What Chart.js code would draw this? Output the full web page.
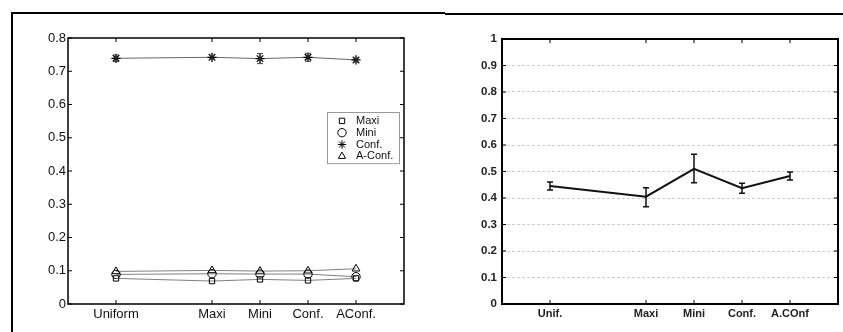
<!DOCTYPE html>
<html>
<head>
<meta charset="utf-8">
<script src="https://cdn.jsdelivr.net/npm/chart.js@4/dist/chart.umd.min.js"></script>
<style>
  html, body { margin: 0; padding: 0; background: #fff; }
  body { width: 843px; height: 332px; position: relative; overflow: hidden; font-family: "Liberation Sans", Arial, sans-serif; }
  canvas { position: absolute; }
  #c1 { left: 20px; top: 20px; }
  #c2 { left: 440px; top: 20px; }
  .rule { position: absolute; background: #000; }
</style>
</head>
<body>
<div class="rule" style="left:11px; top:12px; width:2px; height:320px;"></div>
<div class="rule" style="left:11px; top:12px; width:434px; height:2px;"></div>
<div class="rule" style="left:445px; top:13px; width:398px; height:2px;"></div>
<canvas id="c1" width="400" height="312"></canvas>
<canvas id="c2" width="403" height="312"></canvas>
<script>
// ---- left panel: four placement strategies, scores per scenario ----
const leftCategories = ['Uniform', 'Maxi', 'Mini', 'Conf.', 'AConf.'];
const leftSlots = [1, 3, 4, 5, 6];
const seriesNames = ['Maxi', 'Mini', 'Conf.', 'A-Conf.'];
const maxiValues  = [0.077, 0.069, 0.074, 0.071, 0.077];
const miniValues  = [0.089, 0.091, 0.090, 0.090, 0.082];
const confValues  = [0.739, 0.742, 0.738, 0.742, 0.734];
const confErrors  = [0.010, 0.006, 0.015, 0.012, 0.006];
const aconfValues = [0.098, 0.101, 0.099, 0.100, 0.106];
const leftYTicks  = [0, 0.1, 0.2, 0.3, 0.4, 0.5, 0.6, 0.7, 0.8];

// ---- right panel: single measure with spread ----
const rightCategories = ['Unif.', 'Maxi', 'Mini', 'Conf.', 'A.COnf'];
const rightSlots = [1, 3, 4, 5, 6];
const rightValues = [0.445, 0.405, 0.510, 0.437, 0.483];
const rightLow    = [0.430, 0.367, 0.458, 0.418, 0.468];
const rightHigh   = [0.460, 0.439, 0.565, 0.456, 0.498];
const rightYTicks = [0, 0.1, 0.2, 0.3, 0.4, 0.5, 0.6, 0.7, 0.8, 0.9, 1];

Chart.defaults.font.family = '"Liberation Sans", Arial, sans-serif';
Chart.defaults.color = '#111';
Chart.defaults.animation = false;

const fmt = v => (v === 0 ? '0' : String(Math.round(v * 10) / 10));

function pts(slots, vals) {
  return slots.map((x, i) => ({ x: x, y: vals[i] }));
}

// Frame around the plot area with inward tick marks on every side
const boxFrame = {
  id: 'boxFrame',
  afterDraw(chart, args, opts) {
    const { ctx, chartArea: a, scales } = chart;
    const len = opts.tick || 4;
    ctx.save();
    ctx.strokeStyle = '#000';
    ctx.lineWidth = opts.width || 1.5;
    ctx.strokeRect(a.left, a.top, a.right - a.left, a.bottom - a.top);
    ctx.lineWidth = 1;
    ctx.beginPath();
    scales.x.ticks.forEach(t => {
      const px = scales.x.getPixelForValue(t.value);
      ctx.moveTo(px, a.bottom); ctx.lineTo(px, a.bottom - len);
      ctx.moveTo(px, a.top); ctx.lineTo(px, a.top + len);
    });
    scales.y.ticks.forEach(t => {
      const py = scales.y.getPixelForValue(t.value);
      ctx.moveTo(a.left, py); ctx.lineTo(a.left + len, py);
      ctx.moveTo(a.right, py); ctx.lineTo(a.right - len, py);
    });
    ctx.stroke();
    ctx.restore();
  }
};

// Vertical error bars with caps, read from dataset.errLow / dataset.errHigh
const errorBars = {
  id: 'errorBars',
  afterDatasetsDraw(chart) {
    const { ctx, scales } = chart;
    ctx.save();
    chart.data.datasets.forEach(ds => {
      if (!ds.errLow) return;
      ctx.strokeStyle = ds.errColor || '#000';
      ctx.lineWidth = ds.errWidth || 1;
      const cap = ds.errCap || 3;
      ds.data.forEach((p, i) => {
        const x = scales.x.getPixelForValue(p.x);
        const y1 = scales.y.getPixelForValue(ds.errLow[i]);
        const y2 = scales.y.getPixelForValue(ds.errHigh[i]);
        ctx.beginPath();
        ctx.moveTo(x, y1); ctx.lineTo(x, y2);
        ctx.moveTo(x - cap, y1); ctx.lineTo(x + cap, y1);
        ctx.moveTo(x - cap, y2); ctx.lineTo(x + cap, y2);
        ctx.stroke();
      });
    });
    ctx.restore();
  }
};

// Boxed legend drawn inside the plot area
const innerLegend = {
  id: 'innerLegend',
  afterDraw(chart, args, opts) {
    if (!opts.show) return;
    const { ctx, chartArea: a } = chart;
    const items = chart.data.datasets.filter(d => d.label);
    const w = opts.boxWidth, rowH = opts.rowHeight;
    const h = items.length * rowH + 4;
    const left = a.right - opts.right - w;
    const top = a.top + opts.top;
    ctx.save();
    ctx.fillStyle = '#fff';
    ctx.fillRect(left, top, w, h);
    ctx.strokeStyle = '#999';
    ctx.lineWidth = 1;
    ctx.strokeRect(left + 0.5, top + 0.5, w, h);
    ctx.font = '11px "Liberation Sans", Arial, sans-serif';
    ctx.textBaseline = 'middle';
    items.forEach((d, i) => {
      const cy = top + 3 + rowH * (i + 0.5);
      ctx.fillStyle = 'rgba(255,255,255,0)';
      ctx.strokeStyle = '#000';
      ctx.lineWidth = 1;
      Chart.helpers.drawPoint(ctx, {
        pointStyle: d.pointStyle, radius: Math.min(d.pointRadius, 4.2), borderWidth: 1
      }, left + 15, cy);
      ctx.fillStyle = '#111';
      ctx.fillText(d.label, left + 29, cy);
    });
    ctx.restore();
  }
};

function markerSeries(label, vals, style, extra) {
  return Object.assign({
    label: label,
    data: pts(leftSlots, vals),
    pointStyle: style,
    pointRadius: 4.2,
    pointBorderWidth: 1,
    pointBorderColor: '#000',
    pointBackgroundColor: 'rgba(255,255,255,0)',
    borderColor: '#808080',
    borderWidth: 1,
    fill: false,
    tension: 0
  }, extra || {});
}

new Chart(document.getElementById('c1'), {
  type: 'line',
  data: {
    datasets: [
      markerSeries(seriesNames[0], maxiValues, 'rect', { pointRadius: 3.8 }),
      markerSeries(seriesNames[1], miniValues, 'circle'),
      markerSeries(seriesNames[2], confValues, 'star', {
        borderColor: '#666',
        pointRadius: 4.6,
        pointBorderWidth: 1.3,
        errLow: confValues.map((v, i) => v - confErrors[i]),
        errHigh: confValues.map((v, i) => v + confErrors[i]),
        errColor: '#444', errWidth: 1, errCap: 3
      }),
      markerSeries(seriesNames[3], aconfValues, 'triangle', { pointRadius: 4.5 })
    ]
  },
  options: {
    responsive: false,
    devicePixelRatio: 1,
    layout: { padding: { top: 18, right: 16, left: 0, bottom: 0 } },
    plugins: {
      legend: { display: false },
      tooltip: { enabled: false },
      boxFrame: { width: 1.5, tick: 4 },
      innerLegend: { show: true, boxWidth: 72, rowHeight: 11.8, right: 5, top: 74 }
    },
    scales: {
      x: {
        type: 'linear', min: 0, max: 7,
        grid: { display: false, drawTicks: false },
        border: { display: false },
        afterBuildTicks: s => { s.ticks = leftSlots.map(v => ({ value: v })); },
        afterFit: s => { s.height = 28; },
        ticks: {
          autoSkip: false, maxRotation: 0, padding: 3,
          font: { size: 13 }, color: '#111',
          callback: v => leftCategories[leftSlots.indexOf(v)]
        }
      },
      y: {
        min: 0, max: 0.8,
        grid: { display: false, drawTicks: false },
        border: { display: false },
        afterBuildTicks: s => { s.ticks = leftYTicks.map(v => ({ value: v })); },
        afterFit: s => { s.width = 48; },
        ticks: { padding: 2, font: { size: 13 }, color: '#111', callback: fmt }
      }
    }
  },
  plugins: [errorBars, boxFrame, innerLegend]
});

new Chart(document.getElementById('c2'), {
  type: 'line',
  data: {
    datasets: [{
      data: pts(rightSlots, rightValues),
      borderColor: '#111',
      borderWidth: 2,
      pointRadius: 0,
      fill: false,
      tension: 0,
      errLow: rightLow,
      errHigh: rightHigh,
      errColor: '#111', errWidth: 1.5, errCap: 3
    }]
  },
  options: {
    responsive: false,
    devicePixelRatio: 1,
    layout: { padding: { top: 19, right: 5, left: 0, bottom: 0 } },
    plugins: {
      legend: { display: false },
      tooltip: { enabled: false },
      boxFrame: { width: 2, tick: 4 },
      innerLegend: { show: false }
    },
    scales: {
      x: {
        type: 'linear', min: 0, max: 7,
        grid: { display: false, drawTicks: false },
        border: { display: false },
        afterBuildTicks: s => { s.ticks = rightSlots.map(v => ({ value: v })); },
        afterFit: s => { s.height = 28; },
        ticks: {
          autoSkip: false, maxRotation: 0, padding: 3,
          font: { size: 11, weight: 'bold' }, color: '#222',
          callback: v => rightCategories[rightSlots.indexOf(v)]
        }
      },
      y: {
        min: 0, max: 1,
        grid: { display: true, color: '#cfcfcf', lineWidth: 1, drawTicks: false },
        border: { display: false, dash: [3, 2] },
        afterBuildTicks: s => { s.ticks = rightYTicks.map(v => ({ value: v })); },
        afterFit: s => { s.width = 62; },
        ticks: { padding: 5, font: { size: 11.5, weight: 'bold' }, color: '#222', callback: fmt }
      }
    }
  },
  plugins: [errorBars, boxFrame]
});
</script>
</body>
</html>
